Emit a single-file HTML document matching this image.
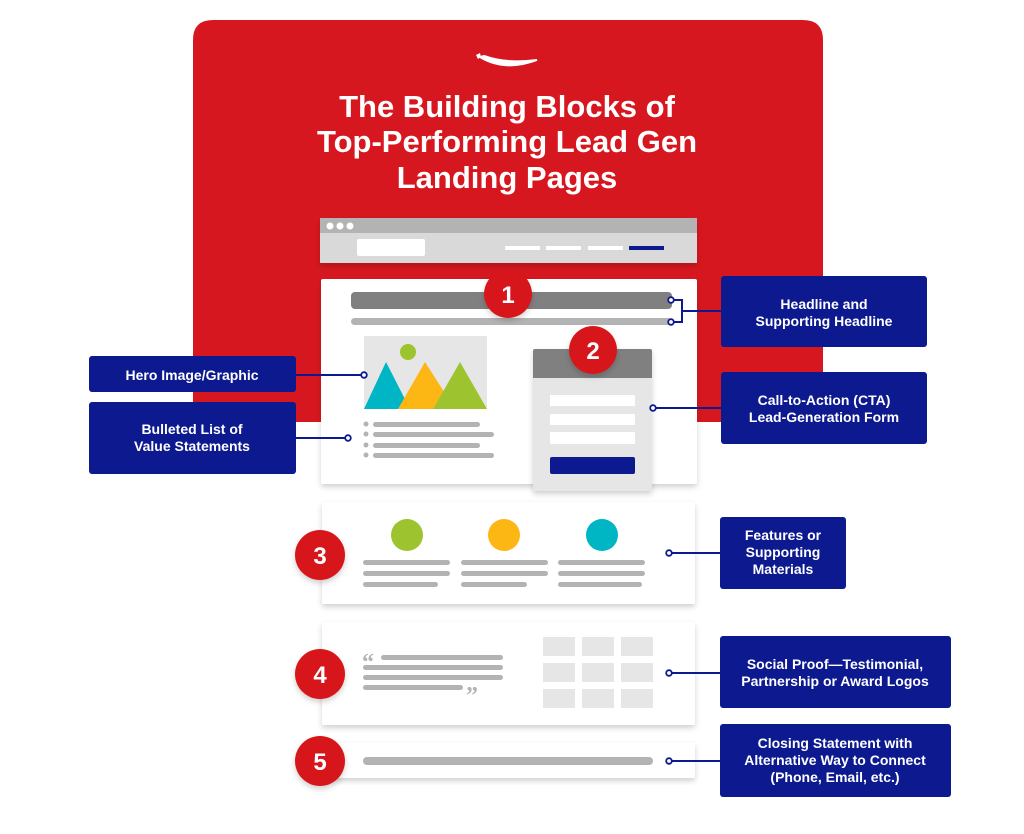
<!DOCTYPE html>
<html><head><meta charset="utf-8"><style>
html,body{margin:0;padding:0;background:#fff;}
svg{display:block;font-family:"Liberation Sans",sans-serif;}
.t{fill:#fff;font-weight:bold;font-size:31px;text-anchor:middle;}
.l{fill:#fff;font-weight:bold;font-size:14px;text-anchor:middle;}
.n{fill:#fff;font-weight:bold;font-size:24px;text-anchor:middle;}
</style></head><body>
<svg width="1024" height="834" viewBox="0 0 1024 834" xmlns="http://www.w3.org/2000/svg">
<defs>
<filter id="sh" x="-10%" y="-10%" width="120%" height="130%"><feDropShadow dx="0" dy="3" stdDeviation="3" flood-color="#000" flood-opacity="0.18"/></filter>
</defs>
<path d="M193 422 V40 Q193 20 213 20 H803 Q823 20 823 40 V422 Z" fill="#d7171f"/>
<path d="M480 57 Q505 72 537 60 Q506 64 484 56 Z" fill="#fff" stroke="#fff" stroke-width="2"/>
<path d="M476 55 l4 -2 l1 4 l-3 2 Z" fill="#fff"/>
<text class="t" x="507" y="117">The Building Blocks of</text>
<text class="t" x="507" y="152">Top-Performing Lead Gen</text>
<text class="t" x="507" y="188">Landing Pages</text>
<g filter="url(#sh)">
<rect x="320" y="218" width="377" height="45" fill="#d9d9d9"/>
<rect x="320" y="218" width="377" height="15" fill="#b3b3b3"/>
</g>
<circle cx="330" cy="226" r="3.5" fill="#fff"/><circle cx="340" cy="226" r="3.5" fill="#fff"/><circle cx="350" cy="226" r="3.5" fill="#fff"/>
<rect x="357" y="239" width="68" height="17" rx="2" fill="#fff"/>
<rect x="505" y="246" width="35" height="4" fill="#fff"/><rect x="546" y="246" width="35" height="4" fill="#fff"/><rect x="588" y="246" width="35" height="4" fill="#fff"/><rect x="629" y="246" width="35" height="4" fill="#0d1a8f"/>
<rect x="321" y="279" width="376" height="205" rx="2" fill="#fff" filter="url(#sh)"/>
<rect x="351" y="292" width="321" height="17" rx="4" fill="#808080"/>
<rect x="351" y="318" width="321" height="7" rx="3.5" fill="#b3b3b3"/>
<rect x="364" y="336" width="123" height="73" fill="#e6e6e6"/>
<circle cx="408" cy="352" r="8" fill="#9dc42f"/>
<polygon points="364,409 386,362 410,409" fill="#00b5c4"/>
<polygon points="398,409 425,362 455,409" fill="#fdb715"/>
<polygon points="433,409 460,362 487,409" fill="#9dc42f"/>
<g fill="#b3b3b3">
<circle cx="366" cy="424" r="2.5"/><rect x="373" y="422" width="107" height="5" rx="2.5"/>
<circle cx="366" cy="434" r="2.5"/><rect x="373" y="432" width="121" height="5" rx="2.5"/>
<circle cx="366" cy="445" r="2.5"/><rect x="373" y="443" width="107" height="5" rx="2.5"/>
<circle cx="366" cy="455" r="2.5"/><rect x="373" y="453" width="121" height="5" rx="2.5"/>
</g>
<g filter="url(#sh)">
<rect x="533" y="349" width="119" height="142" rx="2" fill="#e6e6e6"/>
</g>
<path d="M533 378 V351 Q533 349 535 349 H650 Q652 349 652 351 V378 Z" fill="#808080"/>
<rect x="550" y="395" width="85" height="11" fill="#fff"/>
<rect x="550" y="414" width="85" height="11" fill="#fff"/>
<rect x="550" y="432" width="85" height="12" fill="#fff"/>
<rect x="550" y="457" width="85" height="17" rx="2" fill="#0d1a8f"/>
<rect x="322" y="502" width="373" height="102" rx="2" fill="#fff" filter="url(#sh)"/>
<circle cx="407" cy="535" r="16" fill="#9dc42f"/><circle cx="504" cy="535" r="16" fill="#fdb715"/><circle cx="602" cy="535" r="16" fill="#00b5c4"/>
<g fill="#b3b3b3">
<rect x="363" y="560" width="87" height="5" rx="2.5"/><rect x="363" y="571" width="87" height="5" rx="2.5"/><rect x="363" y="582" width="75" height="5" rx="2.5"/>
<rect x="461" y="560" width="87" height="5" rx="2.5"/><rect x="461" y="571" width="87" height="5" rx="2.5"/><rect x="461" y="582" width="66" height="5" rx="2.5"/>
<rect x="558" y="560" width="87" height="5" rx="2.5"/><rect x="558" y="571" width="87" height="5" rx="2.5"/><rect x="558" y="582" width="84" height="5" rx="2.5"/>
</g>
<rect x="322" y="622" width="373" height="103" rx="2" fill="#fff" filter="url(#sh)"/>
<g fill="#b3b3b3">
<text x="362" y="670" font-size="24" font-weight="bold" fill="#b3b3b3" font-family="Liberation Serif,serif">“</text>
<rect x="381" y="655" width="122" height="5" rx="2.5"/><rect x="363" y="665" width="140" height="5" rx="2.5"/><rect x="363" y="675" width="140" height="5" rx="2.5"/><rect x="363" y="685" width="100" height="5" rx="2.5"/>
<text x="466" y="703" font-size="24" font-weight="bold" fill="#b3b3b3" font-family="Liberation Serif,serif">”</text>
</g>
<g fill="#e6e6e6">
<rect x="543" y="637" width="32" height="19"/><rect x="582" y="637" width="32" height="19"/><rect x="621" y="637" width="32" height="19"/>
<rect x="543" y="663" width="32" height="19"/><rect x="582" y="663" width="32" height="19"/><rect x="621" y="663" width="32" height="19"/>
<rect x="543" y="689" width="32" height="19"/><rect x="582" y="689" width="32" height="19"/><rect x="621" y="689" width="32" height="19"/>
</g>
<rect x="322" y="743" width="373" height="35" rx="2" fill="#fff" filter="url(#sh)"/>
<rect x="363" y="757" width="290" height="8" rx="4" fill="#b3b3b3"/>
<g filter="url(#sh)" fill="#d7171f">
<circle cx="508" cy="294" r="24"/><circle cx="593" cy="350" r="24"/>
<circle cx="320" cy="555" r="25"/><circle cx="320" cy="674" r="25"/><circle cx="320" cy="761" r="25"/>
</g>
<text class="n" x="508" y="303">1</text><text class="n" x="593" y="359">2</text>
<text class="n" x="320" y="564">3</text><text class="n" x="320" y="683">4</text><text class="n" x="320" y="770">5</text>
<g stroke="#0d1a8f" stroke-width="2" fill="none">
<path d="M674 300 H682 V322 H674 M682 311 H721"/>
<path d="M296 375 H362"/>
<path d="M296 438 H346"/>
<path d="M655 408 H721"/>
<path d="M671 553 H720"/>
<path d="M671 673 H720"/>
<path d="M671 761 H720"/>
</g>
<g stroke="#0d1a8f" stroke-width="1.8" fill="#fff">
<circle cx="671" cy="300" r="2.8"/><circle cx="671" cy="322" r="2.8"/>
<circle cx="364" cy="375" r="2.8"/><circle cx="348" cy="438" r="2.8"/>
<circle cx="653" cy="408" r="2.8"/>
<circle cx="669" cy="553" r="2.8"/><circle cx="669" cy="673" r="2.8"/><circle cx="669" cy="761" r="2.8"/>
</g>
<g fill="#0d1a8f">
<rect x="721" y="276" width="206" height="71" rx="3"/>
<rect x="721" y="372" width="206" height="72" rx="3"/>
<rect x="89" y="356" width="207" height="36" rx="3"/>
<rect x="89" y="402" width="207" height="72" rx="3"/>
<rect x="720" y="517" width="126" height="72" rx="3"/>
<rect x="720" y="636" width="231" height="72" rx="3"/>
<rect x="720" y="724" width="231" height="73" rx="3"/>
</g>
<text class="l" x="824" y="309">Headline and</text><text class="l" x="824" y="326">Supporting Headline</text>
<text class="l" x="824" y="405">Call-to-Action (CTA)</text><text class="l" x="824" y="422">Lead-Generation Form</text>
<text class="l" x="192" y="380">Hero Image/Graphic</text>
<text class="l" x="192" y="434">Bulleted List of</text><text class="l" x="192" y="451">Value Statements</text>
<text class="l" x="783" y="540">Features or</text><text class="l" x="783" y="557">Supporting</text><text class="l" x="783" y="574">Materials</text>
<text class="l" x="835" y="669">Social Proof—Testimonial,</text><text class="l" x="835" y="686">Partnership or Award Logos</text>
<text class="l" x="835" y="748">Closing Statement with</text><text class="l" x="835" y="765">Alternative Way to Connect</text><text class="l" x="835" y="782">(Phone, Email, etc.)</text>
</svg>
</body></html>
